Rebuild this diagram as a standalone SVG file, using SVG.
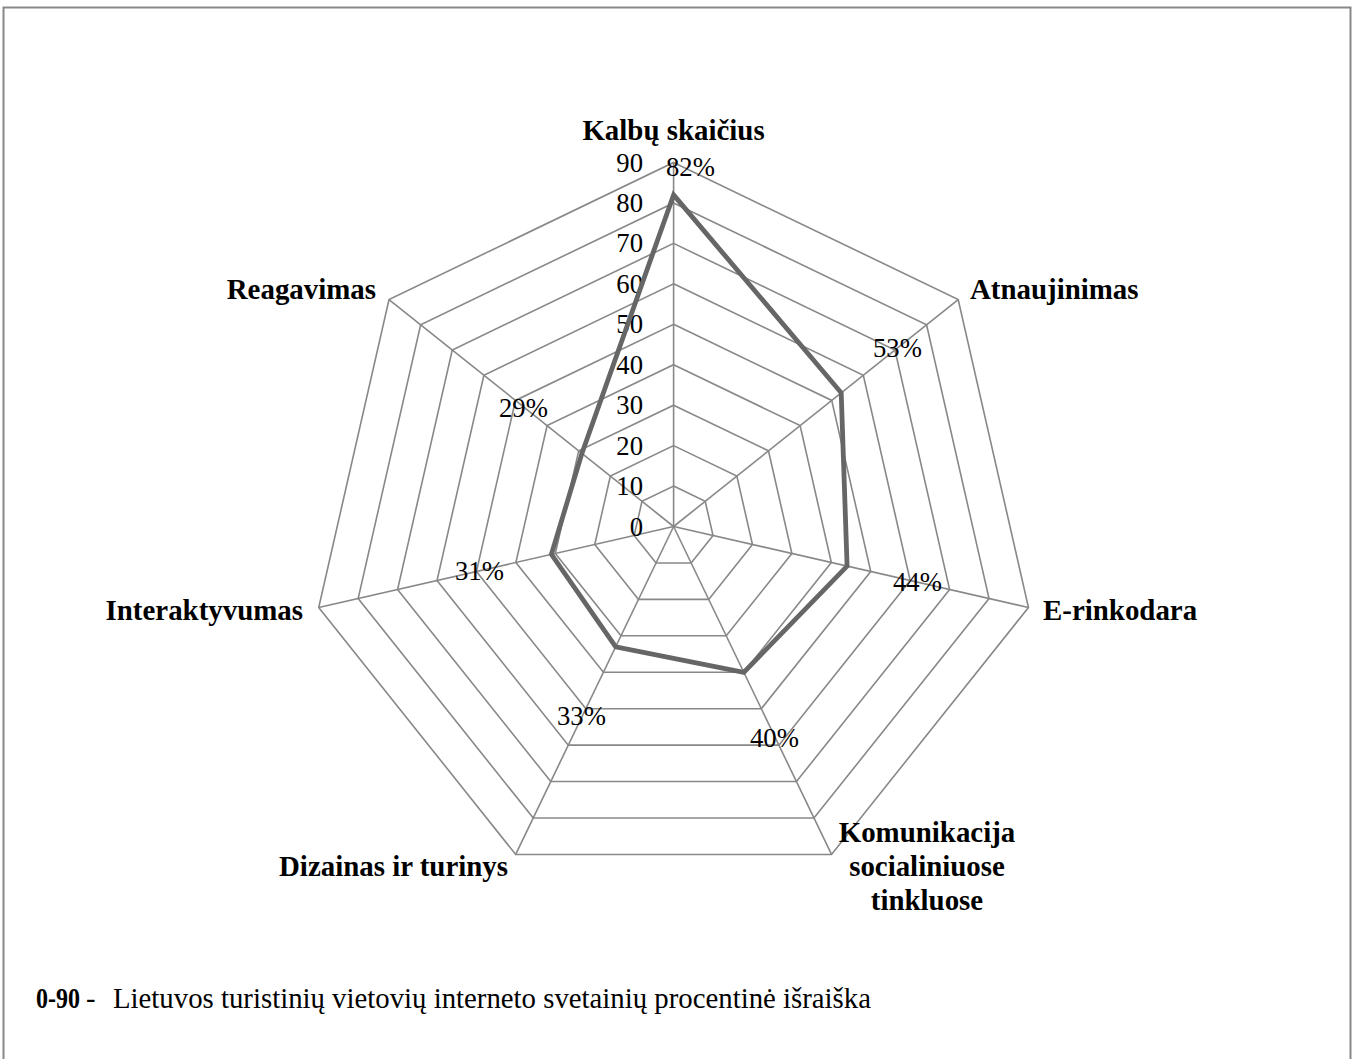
<svg xmlns="http://www.w3.org/2000/svg" width="1358" height="1059" viewBox="0 0 1358 1059">
  <style>
    text { font-family: "Liberation Serif", "Times New Roman", serif; fill: #000; }
    .cat { font-size: 28.9px; font-weight: bold; }
    .tick { font-size: 26.7px; text-anchor: end; }
    .val { font-size: 26.7px; }
    .cap { font-size: 28.5px; }
    .ring { fill: none; stroke: #888; stroke-width: 1.6; vector-effect: non-scaling-stroke; }
    .spoke { stroke: #888; stroke-width: 1.6; }
    .series { fill: none; stroke: #666; stroke-width: 4.8; stroke-linejoin: miter; }
  </style>
  <defs>
    <!-- unit heptagon, first vertex straight up -->
    <polygon id="hept" class="ring" points="0,-1 0.78183,-0.62349 0.97493,0.22252 0.43388,0.90097 -0.43388,0.90097 -0.97493,0.22252 -0.78183,-0.62349"/>
  </defs>

  <rect x="3.5" y="7.5" width="1347" height="1100" fill="#fff" stroke="#888" stroke-width="2"/>

  <!-- radar grid: 9 rings (10..90) and 7 spokes -->
  <g id="grid" transform="translate(673.6,526.5)">
    <use href="#hept" transform="scale(40.44)"/>
    <use href="#hept" transform="scale(80.89)"/>
    <use href="#hept" transform="scale(121.33)"/>
    <use href="#hept" transform="scale(161.78)"/>
    <use href="#hept" transform="scale(202.22)"/>
    <use href="#hept" transform="scale(242.67)"/>
    <use href="#hept" transform="scale(283.11)"/>
    <use href="#hept" transform="scale(323.56)"/>
    <use href="#hept" transform="scale(364)"/>
    <line class="spoke" x1="0" y1="0" x2="0" y2="-364"/>
    <line class="spoke" x1="0" y1="0" x2="284.59" y2="-226.95"/>
    <line class="spoke" x1="0" y1="0" x2="354.87" y2="81.0"/>
    <line class="spoke" x1="0" y1="0" x2="157.93" y2="327.95"/>
    <line class="spoke" x1="0" y1="0" x2="-157.93" y2="327.95"/>
    <line class="spoke" x1="0" y1="0" x2="-354.87" y2="81.0"/>
    <line class="spoke" x1="0" y1="0" x2="-284.59" y2="-226.95"/>
  </g>

  <!-- scale labels 0..90 -->
  <g id="scale">
    <text class="tick" x="643" y="535.5">0</text>
    <text class="tick" x="643" y="495.1">10</text>
    <text class="tick" x="643" y="454.6">20</text>
    <text class="tick" x="643" y="414.2">30</text>
    <text class="tick" x="643" y="373.7">40</text>
    <text class="tick" x="643" y="333.3">50</text>
    <text class="tick" x="643" y="292.8">60</text>
    <text class="tick" x="643" y="252.4">70</text>
    <text class="tick" x="643" y="211.9">80</text>
    <text class="tick" x="643" y="171.5">90</text>
  </g>

  <!-- data series -->
  <g id="connectors" transform="translate(673.6,526.5)">
    <polygon class="series" points="0,-331.6 167.6,-133.7 173.5,39.6 70.2,145.8 -57.9,120.3 -122.2,27.9 -91.7,-73.1"/>
  </g>

  <!-- value labels -->
  <g id="values">
    <text class="val" x="666" y="176">82%</text>
    <text class="val" x="873" y="357">53%</text>
    <text class="val" x="893" y="591">44%</text>
    <text class="val" x="750" y="747">40%</text>
    <text class="val" x="557" y="725">33%</text>
    <text class="val" x="455" y="580">31%</text>
    <text class="val" x="499" y="417">29%</text>
  </g>

  <!-- axis labels -->
  <g id="axis-kalbu">
    <text class="cat" x="673.5" y="140" text-anchor="middle">Kalbų skaičius</text>
  </g>
  <g id="axis-atnaujinimas">
    <text class="cat" x="970" y="299">Atnaujinimas</text>
  </g>
  <g id="axis-erinkodara">
    <text class="cat" x="1043" y="620">E-rinkodara</text>
  </g>
  <g id="axis-komunikacija">
    <text class="cat" x="927" y="842" text-anchor="middle">Komunikacija</text>
    <text class="cat" x="927" y="876" text-anchor="middle">socialiniuose</text>
    <text class="cat" x="927" y="910" text-anchor="middle">tinkluose</text>
  </g>
  <g id="axis-dizainas">
    <text class="cat" x="508" y="876" text-anchor="end">Dizainas ir turinys</text>
  </g>
  <g id="axis-interaktyvumas">
    <text class="cat" x="303" y="620" text-anchor="end">Interaktyvumas</text>
  </g>
  <g id="axis-reagavimas">
    <text class="cat" x="376" y="299" text-anchor="end">Reagavimas</text>
  </g>

  <!-- legend note -->
  <g id="caption">
    <text class="cap" x="36" y="1008" font-weight="bold" textLength="44" lengthAdjust="spacingAndGlyphs">0-90</text>
    <text class="cap" x="86" y="1008">-</text>
    <text class="cap" x="113" y="1008" textLength="758" lengthAdjust="spacingAndGlyphs">Lietuvos turistinių vietovių interneto svetainių procentinė išraiška</text>
  </g>
</svg>
